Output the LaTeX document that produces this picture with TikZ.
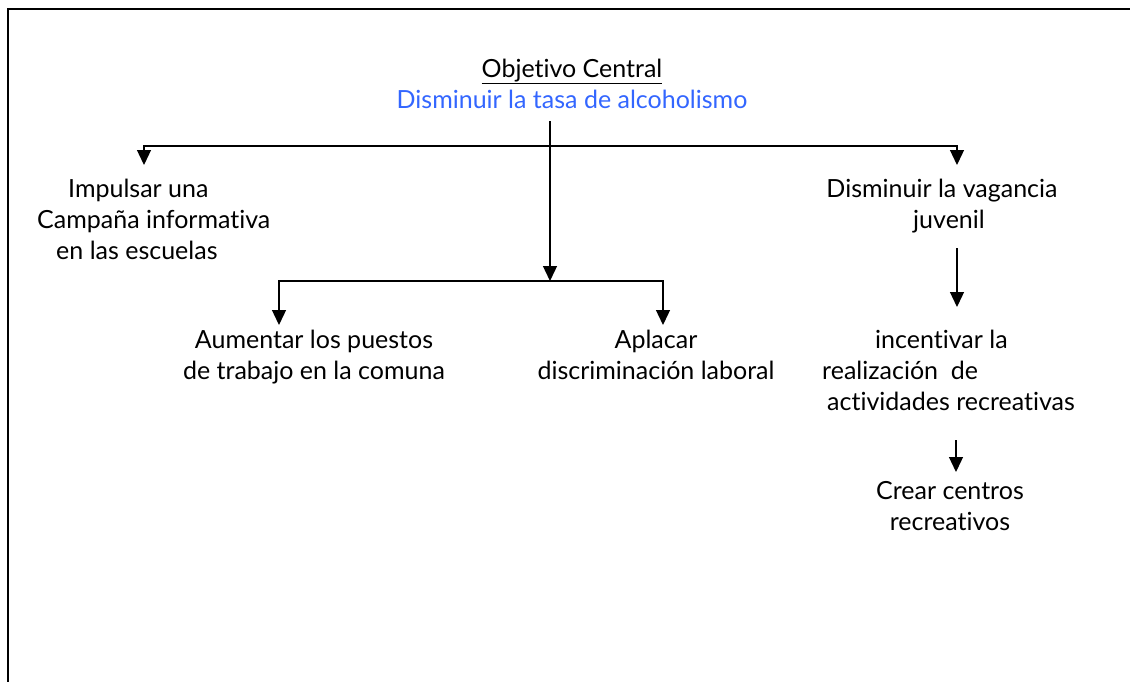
\documentclass[tikz,border=0pt]{standalone}
\usepackage{fontspec}
\setmainfont{Lato}[Ligatures=NoCommon]
\usetikzlibrary{arrows.meta}
\definecolor{goalblue}{RGB}{51,102,255}
\begin{document}
\begin{tikzpicture}[x=1pt,y=-1pt,
  txt/.style={font=\fontsize{25}{31}\selectfont, align=center, inner sep=0pt, anchor=base},
  link/.style={line width=1.3pt},
  arr/.style={link,-{Triangle[length=15pt,width=14pt]}},
  frame/.style={line width=1.6pt}]
\useasboundingbox (0,0) rectangle (1130,681);
% frame
\draw[frame] (8,690) -- (8,9) -- (1140,9);
% texts (base anchor = baseline of the last line)
\node[txt] (obj) at (572,77) {\underline{Objetivo Central}};
\node[txt, text=goalblue] (goal) at (572,108) {Disminuir la tasa de alcoholismo};
\node[txt, align=left, anchor=base west] (c1) at (37,259) {\hspace*{31pt}Impulsar una\\Campaña informativa\\\hspace*{19pt}en las escuelas};
\node[txt] (c2) at (942,228) {Disminuir la vagancia\\\hspace*{14pt}juvenil};
\node[txt] (c3) at (314,379) {Aumentar los puestos\\de trabajo en la comuna};
\node[txt] (c4) at (656,379) {Aplacar\\discriminación laboral};
\node[txt, align=left, anchor=base west] (c5) at (822,410) {\hspace*{53pt}incentivar la\\realización\ \ de\\\hspace*{5pt}actividades recreativas};
\node[txt] (c6) at (950,530) {Crear centros\\recreativos};
% connector points
\coordinate (top) at (550,121);
\coordinate (j1) at (550,146);
\coordinate (j2) at (550,281);
\coordinate (t1) at (144,165);
\coordinate (t2) at (957,165);
\coordinate (t3) at (279,325);
\coordinate (t4) at (663,325);
\coordinate (s1) at (957,248);
\coordinate (e1) at (957,307);
\coordinate (s2) at (956,440);
\coordinate (e2) at (956,472);
% connectors
\draw[arr] (top) -- (j2);
\draw[arr] (j1) -| (t1);
\draw[arr] (j1) -| (t2);
\draw[arr] (j2) -| (t3);
\draw[arr] (j2) -| (t4);
\draw[arr] (s1) -- (e1);
\draw[arr] (s2) -- (e2);
\end{tikzpicture}
\end{document}
